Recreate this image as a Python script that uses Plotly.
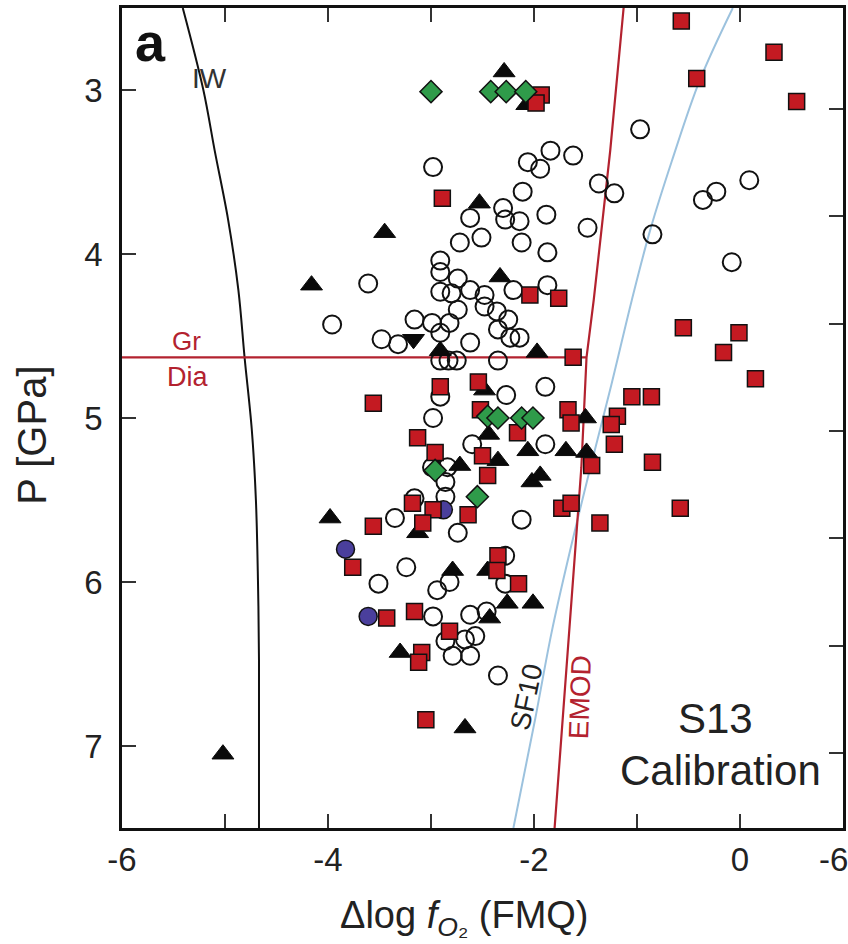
import plotly.graph_objects as go

# ---------------- data ----------------
x_tick_vals = [-6, -4, -2, 0]
x_tick_text = ["-6", "-4", "-2", "0"]
x_minor_vals = [-5, -3, -1]
x_end_label = "-6"          # label printed at the right end of the axis (x = 1)
y_tick_vals = [3, 4, 5, 6, 7]
depth_ticks = [100, 120, 140, 160, 180, 200, 220]

iw_x = [-5.41, -5.21, -5.10, -4.97, -4.87, -4.81, -4.74, -4.70, -4.68, -4.67, -4.67]
iw_p = [2.5, 3.0, 3.37, 3.79, 4.22, 4.63, 5.07, 5.5, 5.99, 6.48, 7.5]

emod_x = [-1.13, -1.26, -1.42, -1.49, -1.54, -1.67, -1.80]
emod_p = [2.5, 3.37, 4.28, 4.63, 5.30, 6.40, 7.5]

sf10_x = [-0.07, -0.39, -0.66, -0.87, -1.05, -1.25, -1.46, -1.65, -1.83, -1.99, -2.20]
sf10_p = [2.5, 2.94, 3.43, 3.85, 4.28, 4.80, 5.32, 5.81, 6.31, 6.84, 7.5]

grdia_x = [-6.0, -1.49]
grdia_p = [4.63, 4.63]

open_x = [-2.98, -3.61, -2.06, -1.94, -1.84, -1.62, -2.11, -2.62, -2.30, -2.28,
          -2.14, -1.88, -2.72, -2.51, -2.12, -1.87, -2.91, -2.91, -2.74, -2.62,
          -2.20, -1.87, -2.91, -2.80, -2.48, -1.37, -1.22, -1.48, -0.97, -0.36,
          -0.23, 0.09, -0.85, -0.08, -3.96, -3.48, -3.32, -3.16, -2.99, -2.91,
          -2.82, -2.74, -2.62, -2.48, -2.35, -2.25, -2.23, -2.14, -2.36, -2.91,
          -2.83, -2.75, -2.35, -2.91, -2.27, -1.89, -2.98, -2.60, -1.89, -2.99,
          -2.84, -2.86, -2.86, -3.16, -3.35, -2.74, -2.12, -3.24, -2.28, -3.51,
          -2.94, -2.82, -2.28, -2.98, -2.62, -2.46, -2.86, -2.67, -2.57, -2.79,
          -2.62, -2.35]
open_p = [3.47, 4.18, 3.44, 3.48, 3.37, 3.40, 3.62, 3.78, 3.72, 3.79,
          3.80, 3.76, 3.93, 3.90, 3.93, 3.99, 4.04, 4.11, 4.15, 4.22,
          4.22, 4.19, 4.23, 4.24, 4.25, 3.57, 3.63, 3.84, 3.24, 3.67,
          3.62, 3.55, 3.88, 4.05, 4.43, 4.52, 4.55, 4.40, 4.42, 4.48,
          4.42, 4.34, 4.54, 4.32, 4.46, 4.40, 4.51, 4.51, 4.35, 4.65,
          4.65, 4.65, 4.65, 4.87, 4.86, 4.81, 5.00, 5.16, 5.16, 5.30,
          5.30, 5.39, 5.48, 5.49, 5.61, 5.70, 5.62, 5.91, 5.84, 6.01,
          6.05, 6.00, 6.01, 6.21, 6.20, 6.18, 6.36, 6.35, 6.33, 6.45,
          6.45, 6.57]

blue_x = [-2.88, -3.83, -3.61]
blue_p = [5.56, 5.80, 6.21]

tri_x = [-2.29, -2.07, -2.53, -3.45, -4.16, -2.33, -2.91, -1.97, -2.48, -1.50,
         -1.69, -1.49, -2.44, -2.35, -2.72, -2.06, -2.02, -1.94, -3.98, -3.13,
         -2.79, -2.45, -2.26, -2.01, -2.43, -3.30, -2.67, -5.02]
tri_p = [2.89, 3.09, 3.69, 3.87, 4.19, 4.14, 4.59, 4.60, 4.83, 5.00,
         5.20, 5.21, 5.10, 5.26, 5.29, 5.20, 5.39, 5.35, 5.61, 5.70,
         5.93, 5.93, 6.13, 6.13, 6.22, 6.43, 6.89, 7.05]

tri_down_x = [-3.17]
tri_down_p = [4.52]

sq_x = [-0.57, -0.42, 0.33, 0.55, -1.93, -1.98, -2.89, -2.04, -1.76, -0.55,
        -0.01, -0.16, 0.15, -1.62, -1.05, -0.86, -1.67, -1.64, -1.19, -1.25,
        -1.22, -1.44, -0.85, -1.73, -1.64, -0.58, -1.36, -2.91, -2.54, -3.56,
        -2.52, -2.16, -3.13, -2.96, -2.50, -2.45, -3.18, -2.98, -2.64, -3.08,
        -3.56, -3.76, -2.35, -2.36, -2.15, -3.43, -3.16, -2.82, -3.09, -3.12,
        -3.05]
sq_p = [2.58, 2.93, 2.77, 3.07, 3.03, 3.08, 3.66, 4.25, 4.27, 4.45,
        4.48, 4.60, 4.76, 4.63, 4.87, 4.87, 4.95, 5.03, 4.99, 5.04,
        5.16, 5.29, 5.27, 5.55, 5.52, 5.55, 5.64, 4.81, 4.78, 4.91,
        4.95, 5.09, 5.12, 5.21, 5.23, 5.35, 5.52, 5.56, 5.59, 5.64,
        5.66, 5.91, 5.84, 5.93, 6.01, 6.22, 6.18, 6.30, 6.43, 6.49,
        6.84]

dia_x = [-3.00, -2.42, -2.27, -2.08, -2.45, -2.35, -2.12, -2.01, -2.96, -2.55]
dia_p = [3.01, 3.01, 3.01, 3.01, 4.99, 5.00, 5.00, 5.00, 5.32, 5.48]

# ---------------- styles ----------------
FONT = "Liberation Sans, Arial, Helvetica, sans-serif"
RED_LINE = "#b3222f"
BLUE_LINE = "#9cc2de"
RED_FILL = "#c41a22"
GREEN_FILL = "#2f9b4a"
BLUE_FILL = "#4a3f9c"

fig = go.Figure()

# reference curves
fig.add_trace(go.Scatter(x=iw_x, y=iw_p, mode="lines", line=dict(color="#111", width=2, shape="spline"), showlegend=False))
fig.add_trace(go.Scatter(x=sf10_x, y=sf10_p, mode="lines", line=dict(color=BLUE_LINE, width=2, shape="spline"), showlegend=False))
fig.add_trace(go.Scatter(x=emod_x, y=emod_p, mode="lines", line=dict(color=RED_LINE, width=2.2), showlegend=False))
fig.add_trace(go.Scatter(x=grdia_x, y=grdia_p, mode="lines", line=dict(color=RED_LINE, width=2.2), showlegend=False))

# data markers
fig.add_trace(go.Scatter(x=open_x, y=open_p, mode="markers",
                         marker=dict(symbol="circle-open", size=18, color="#111", line=dict(width=2, color="#111")),
                         showlegend=False))
fig.add_trace(go.Scatter(x=blue_x, y=blue_p, mode="markers",
                         marker=dict(symbol="circle", size=18, color=BLUE_FILL, line=dict(width=1.5, color="#111")),
                         showlegend=False))
fig.add_trace(go.Scatter(x=tri_x, y=tri_p, mode="markers",
                         marker=dict(symbol="triangle-up", size=19, color="#0a0a0a", line=dict(width=1, color="#0a0a0a")),
                         showlegend=False))
fig.add_trace(go.Scatter(x=tri_down_x, y=tri_down_p, mode="markers",
                         marker=dict(symbol="triangle-down", size=19, color="#0a0a0a", line=dict(width=1, color="#0a0a0a")),
                         showlegend=False))
fig.add_trace(go.Scatter(x=sq_x, y=sq_p, mode="markers",
                         marker=dict(symbol="square", size=16, color=RED_FILL, line=dict(width=1.5, color="#111")),
                         showlegend=False))
fig.add_trace(go.Scatter(x=dia_x, y=dia_p, mode="markers",
                         marker=dict(symbol="diamond", size=17, color=GREEN_FILL, line=dict(width=1.5, color="#111")),
                         showlegend=False))

# invisible trace for the right-hand depth ticks
fig.add_trace(go.Scatter(x=[None], y=[None], yaxis="y2", showlegend=False, hoverinfo="skip"))

def ann(text, x, y, size, color="#222", angle=0, bold=False, xref="x", yref="y", xanchor="center"):
    if bold:
        text = "<b>" + text + "</b>"
    fig.add_annotation(text=text, x=x, y=y, xref=xref, yref=yref, showarrow=False,
                       xanchor=xanchor, yanchor="middle", textangle=angle,
                       font=dict(family=FONT, size=size, color=color))

ann("a", -5.72, 2.71, 54, color="#111", bold=True)
ann("IW", -5.15, 2.93, 28, color="#333")
ann("Gr", -5.37, 4.53, 26, color=RED_LINE)
ann("Dia", -5.36, 4.75, 27, color=RED_LINE)
ann("S13", -0.24, 6.83, 42, color="#222")
ann("Calibration", -0.19, 7.15, 42, color="#222")
ann("SF10", -2.07, 6.70, 28, color="#222", angle=-78)
ann("EMOD", -1.55, 6.70, 28, color=RED_LINE, angle=-88)

# label at the right end of the x axis
ann(x_end_label, 0.9875, -0.038, 33, color="#222", xref="paper", yref="paper")

# axis titles
ann("P [GPa]", -0.124, 0.479, 40, color="#222", angle=-90, xref="paper", yref="paper")
ann("Δlog <i>f</i><sub><i>O</i>₂</sub> (FMQ)", 0.475, -0.11, 38, color="#222", xref="paper", yref="paper")

tickfont = dict(family=FONT, size=33, color="#222")

fig.update_layout(
    width=848, height=944,
    margin=dict(l=122, r=5, t=8, b=116, autoexpand=False),
    paper_bgcolor="white", plot_bgcolor="white",
    font=dict(family=FONT),
    xaxis=dict(range=[-6, 1], tickvals=x_tick_vals, ticktext=x_tick_text,
               ticks="inside", ticklen=14, tickwidth=2, tickcolor="#333",
               minor=dict(tickvals=x_minor_vals, ticks="inside", ticklen=14, tickwidth=2, tickcolor="#333"),
               showline=True, linewidth=3, linecolor="#111", mirror="ticks",
               showgrid=False, zeroline=False, tickfont=tickfont, ticklabelstandoff=0),
    yaxis=dict(range=[7.5, 2.5], tickvals=y_tick_vals,
               ticks="inside", ticklen=14, tickwidth=2, tickcolor="#333",
               showline=True, linewidth=2.5, linecolor="#111", mirror=True,
               showgrid=False, zeroline=False, tickfont=tickfont, ticklabelstandoff=10),
    yaxis2=dict(overlaying="y", side="right", range=[233.98, 81.18], tickvals=depth_ticks,
                ticks="inside", ticklen=14, tickwidth=2, tickcolor="#333",
                showticklabels=False, showline=False, showgrid=False, zeroline=False),
)

fig.write_html("out.html")
